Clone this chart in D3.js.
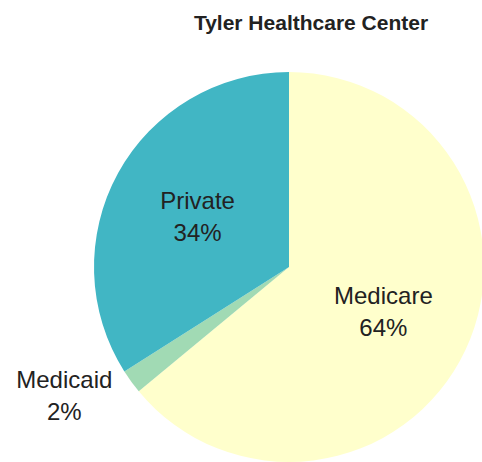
<!DOCTYPE html>
<html>
<head>
<meta charset="utf-8">
<script src="https://cdn.jsdelivr.net/npm/d3@7"></script>
<style>
  html, body { margin: 0; padding: 0; background: #fff; }
  svg { display: block; }
  text { font-family: "Liberation Sans", Arial, sans-serif; fill: #222; }
</style>
</head>
<body>
<svg id="chart" width="482" height="462"></svg>
<script>
const title = "Tyler Healthcare Center";
const categories = ["Medicare", "Medicaid", "Private"];
const values = [64, 2, 34];
const colors = ["#FFFFCC", "#A1DAB4", "#41B6C4"];
const labelInside = [true, false, true];

const W = 482, H = 462;
const cx = 289, cy = 267, R = 195;
const svg = d3.select("#chart");

svg.append("text")
  .attr("x", 311).attr("y", 30)
  .attr("text-anchor", "middle")
  .style("font-weight", "bold")
  .style("font-size", "21px")
  .text(title);

const data = categories.map((c, i) => ({ name: c, value: values[i], color: colors[i], inside: labelInside[i] }));
const pie = d3.pie().value(d => d.value).sort(null);
const arcs = pie(data);
const arc = d3.arc().innerRadius(0).outerRadius(R);
const labelArc = d3.arc().innerRadius(R * 0.535).outerRadius(R * 0.535);

const g = svg.append("g").attr("transform", `translate(${cx},${cy})`);
g.selectAll("path").data(arcs).enter().append("path")
  .attr("d", arc)
  .attr("fill", d => d.data.color);

const total = d3.sum(values);
arcs.forEach(a => {
  let x, y, anchor = "middle";
  const pct = Math.round(a.data.value / total * 100) + "%";
  if (a.data.inside) {
    [x, y] = labelArc.centroid(a);
  } else {
    const mid = (a.startAngle + a.endAngle) / 2;
    const rr = R * 1.12;
    x = Math.sin(mid) * rr;
    y = -Math.cos(mid) * rr;
  }
  const t = g.append("text")
    .attr("text-anchor", "middle")
    .style("font-size", "24px");
  const t1 = t.append("tspan").attr("x", x).attr("y", y - 7.5).text(a.data.name);
  const t2 = t.append("tspan").attr("x", x).attr("y", y + 24.5).text(pct);
  if (!a.data.inside) {
    const w = t1.node().getComputedTextLength();
    t1.attr("x", x - w / 2);
    t2.attr("x", x - w / 2);
  }
});
</script>
</body>
</html>
